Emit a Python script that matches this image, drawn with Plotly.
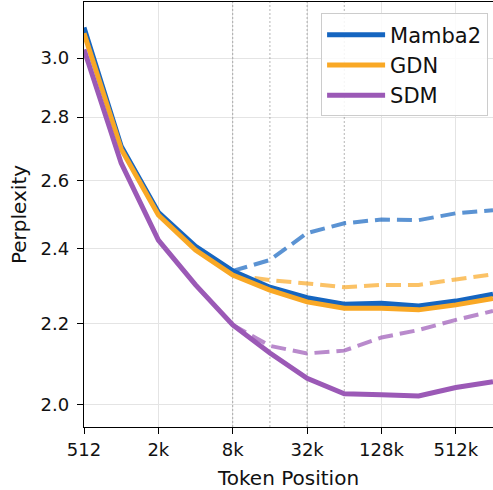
import plotly.graph_objects as go

# Token positions (powers of two from 512 to 1M)
positions = [512, 1024, 2048, 4096, 8192, 16384, 32768, 65536, 131072, 262144, 524288, 1048576]

# Perplexity per position
mamba2 = [3.109, 2.706, 2.505, 2.407, 2.339, 2.295, 2.267, 2.250, 2.252, 2.245, 2.258, 2.276]
gdn = [3.088, 2.697, 2.497, 2.397, 2.328, 2.287, 2.256, 2.239, 2.239, 2.235, 2.248, 2.265]
sdm = [3.030, 2.653, 2.425, 2.301, 2.196, 2.125, 2.063, 2.026, 2.024, 2.021, 2.041, 2.055]

# Alternative runs beyond 8k (dashed)
ext_positions = [8192, 16384, 32768, 65536, 131072, 262144, 524288, 1048576]
mamba2_ext = [2.339, 2.369, 2.445, 2.473, 2.484, 2.482, 2.502, 2.511]
gdn_ext = [2.328, 2.314, 2.305, 2.295, 2.301, 2.301, 2.316, 2.330]
sdm_ext = [2.196, 2.143, 2.124, 2.131, 2.164, 2.183, 2.209, 2.232]

# Reference context lengths marked with dotted lines
marker_positions = [8192, 16384, 32768, 65536]

tick_vals = [512, 2048, 8192, 32768, 131072, 524288]
tick_text = ["512", "2k", "8k", "32k", "128k", "512k"]
y_ticks = [2.0, 2.2, 2.4, 2.6, 2.8, 3.0]

colors = {"Mamba2": "#1565C0", "GDN": "#F9A825", "SDM": "#9B59B6"}
light = {"Mamba2": "rgba(21,101,192,0.7)", "GDN": "rgba(249,168,37,0.7)", "SDM": "rgba(155,89,182,0.7)"}

y_lo, y_hi = 1.949, 3.203

fig = go.Figure()

for xv in marker_positions:
    fig.add_trace(go.Scatter(
        x=[xv, xv], y=[y_lo, y_hi], mode="lines",
        line=dict(color="rgba(120,120,120,0.55)", width=1, dash="2px,2px"),
        showlegend=False, hoverinfo="skip"))

for name, vals in [("Mamba2", mamba2_ext), ("GDN", gdn_ext), ("SDM", sdm_ext)]:
    fig.add_trace(go.Scatter(
        x=ext_positions, y=vals, mode="lines",
        line=dict(color=light[name], width=4, dash="15px,7px"),
        showlegend=False))

for name, vals in [("Mamba2", mamba2), ("GDN", gdn), ("SDM", sdm)]:
    fig.add_trace(go.Scatter(
        x=positions, y=vals, mode="lines", name=name,
        line=dict(color=colors[name], width=5)))

axis_font = dict(family="DejaVu Sans", size=18, color="#111")

fig.update_layout(
    width=493, height=490,
    margin=dict(l=84, r=0, t=2, b=63),
    plot_bgcolor="white", paper_bgcolor="white",
    font=dict(family="DejaVu Sans", color="#111"),
    xaxis=dict(
        type="log",
        range=[2.70927, 6.02060],
        tickvals=tick_vals, ticktext=tick_text,
        tickfont=axis_font,
        ticks="outside", ticklen=6, tickwidth=1.3, tickcolor="black",
        showline=True, linecolor="black", linewidth=1.3, mirror=True,
        showgrid=True, gridcolor="#e4e4e4", gridwidth=1.2,
        zeroline=False,
        title=dict(text="Token Position", font=dict(family="DejaVu Sans", size=20, color="#111"), standoff=12),
    ),
    yaxis=dict(
        type="log",
        range=[0.28981, 0.50556],
        tickvals=y_ticks, ticktext=[f"{v:.1f}" for v in y_ticks],
        tickfont=axis_font,
        ticks="outside", ticklen=6, tickwidth=1.3, tickcolor="black",
        ticklabelstandoff=4,
        showline=True, linecolor="black", linewidth=1.3,
        showgrid=True, gridcolor="#e4e4e4", gridwidth=1.2,
        zeroline=False,
        title=dict(text="Perplexity", font=dict(family="DejaVu Sans", size=20, color="#111"), standoff=8),
    ),
    legend=dict(
        x=0.988, y=0.973, xanchor="right", yanchor="top",
        bgcolor="rgba(255,255,255,0.85)", bordercolor="#cccccc", borderwidth=1,
        font=dict(family="DejaVu Sans", size=21, color="#111"),
        itemwidth=58, tracegroupgap=0,
    ),
)

fig.write_html("out.html")
